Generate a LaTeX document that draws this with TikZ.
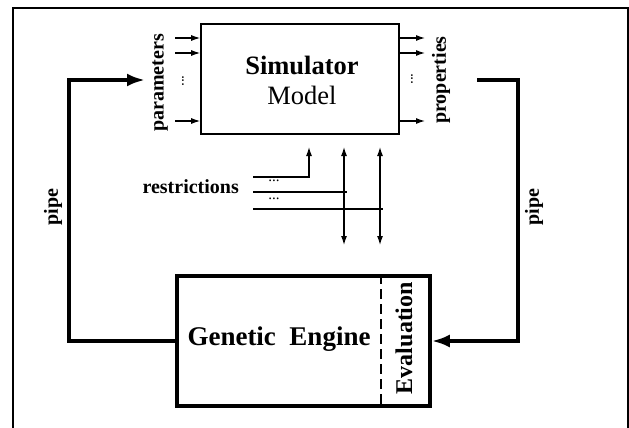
\documentclass[tikz,border=0pt]{standalone}
\usepackage{fontspec}
\setmainfont{Liberation Serif}
\usetikzlibrary{arrows.meta}
\begin{document}
\begin{tikzpicture}[x=1pt,y=-1pt,
  thin/.style={line width=1.2pt},
  sarrow/.style={thin,-{Latex[length=9pt,width=6pt]}},
  darrow/.style={thin,{Latex[length=9pt,width=6pt]}-{Latex[length=9pt,width=6pt]}},
  pipe/.style={line width=3.8pt,-{Latex[length=18pt,width=13pt]}},
  lbl/.style={font=\fontsize{20}{20}\selectfont\bfseries,inner sep=0pt},
  big/.style={font=\fontsize{26.5}{30}\selectfont},
  vdots/.style={font=\fontsize{15}{15}\selectfont,inner sep=0pt,rotate=90},
  hdots/.style={font=\fontsize{15}{15}\selectfont,inner sep=0pt}
]
\useasboundingbox (0,0) rectangle (629,428);
% outer frame
\draw[line width=1.5pt] (13,440) -- (13,8) -- (628,8) -- (628,440);

% simulator
\node[draw,line width=1.6pt,minimum width=198pt,minimum height=110pt,inner sep=0pt] (sim) at (300,79) {};
\node[big,inner sep=0pt,align=center] (simt) at (302,80) {\textbf{Simulator}\\Model};

% genetic engine
\node[draw,line width=3.5pt,minimum width=253pt,minimum height=130pt,inner sep=0pt] (ge) at (303.5,341) {};
\node[font=\fontsize{27}{30}\selectfont\bfseries,inner sep=0pt] (get) at (279,339) {Genetic\ \ Engine};
\node[font=\fontsize{24}{24}\selectfont\bfseries,inner sep=0pt,rotate=90] (ev) at (404,338) {Evaluation};
\draw[line width=2.5pt,dash pattern=on 10pt off 5pt] (ge.north -| 381,0) -- (ge.south -| 381,0);

% input and output arrows
\foreach \y/\n in {38/a,53/b,121/c}{
  \coordinate (in\n) at (175,\y);
  \draw[sarrow] (in\n) -- (sim.west |- in\n);
  \coordinate (out\n) at (425,\y);
  \draw[sarrow] (sim.east |- out\n) -- (out\n);
}
\node[vdots] (vd1) at (183,81) {...};
\node[vdots] (vd2) at (412,79) {...};
\node[lbl,rotate=90] (par) at (160,83) {parameters};
\node[lbl,rotate=90] (prop) at (441,80) {properties};

% pipes
\coordinate (pin) at (145,80);
\coordinate (pout) at (477,80);
\draw[pipe] (ge.west) -- (69,341) -- (69,80) -- (pin);
\draw[pipe] (pout) -- (518,80) -- (518,341) -- (ge.east);
\node[lbl,rotate=90] (pipel) at (53,207) {pipe};
\node[lbl,rotate=90] (piper) at (534,207) {pipe};

% restrictions
\node[lbl,anchor=east] (res) at (239,187) {restrictions};
\coordinate (r1) at (253,177);
\coordinate (r2) at (253,192);
\coordinate (r3) at (253,209);
\coordinate (t1) at (309,147);
\coordinate (t2a) at (344,147);
\coordinate (t2b) at (344,245);
\coordinate (t3a) at (380,147);
\coordinate (t3b) at (380,245);
\draw[thin] (r1) -- (309,177);
\draw[sarrow] (309,177.6) -- (t1);
\draw[thin] (r2) -- (347,192);
\draw[thin] (r3) -- (383,209);
\draw[darrow] (t2b) -- (t2a);
\draw[darrow] (t3b) -- (t3a);
\node[hdots] (d1) at (274,181) {...};
\node[hdots] (d2) at (274,199) {...};
\end{tikzpicture}
\end{document}
